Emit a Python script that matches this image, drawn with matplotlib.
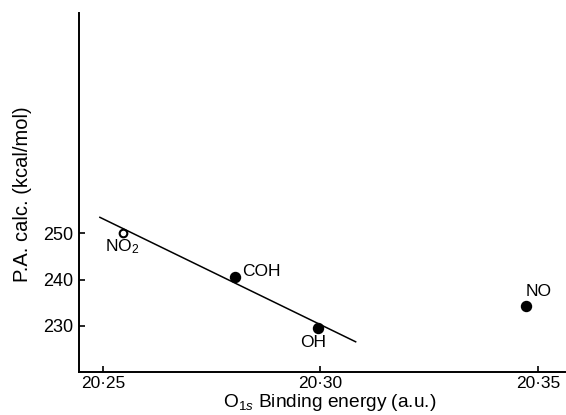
import matplotlib
matplotlib.use("Agg")
import matplotlib.pyplot as plt

plt.rcParams['font.family'] = ['Liberation Sans', 'DejaVu Sans']
plt.rcParams['mathtext.fontset'] = 'custom'
plt.rcParams['mathtext.rm'] = 'Liberation Sans'
plt.rcParams['mathtext.it'] = 'Liberation Sans:italic'

# Data
labels = ["NO$_2$", "COH", "OH", "NO"]
binding_energy = [20.2547, 20.2803, 20.2994, 20.3472]
pa_calc = [250.0, 240.6, 229.5, 234.4]
filled = [False, True, True, True]

fit_x = [20.2493, 20.3081]
fit_y = [253.4, 226.6]

xticks = [20.25, 20.30, 20.35]
xtick_labels = ["20·25", "20·30", "20·35"]
yticks = [230, 240, 250]
ytick_labels = ["230", "240", "250"]

fig = plt.figure(figsize=(5.66, 4.15), dpi=100)
ax = fig.add_axes([0.1396, 0.1048, 0.8584, 0.8639])

ax.plot(fit_x, fit_y, color='black', lw=1.1)

for x, y, f in zip(binding_energy, pa_calc, filled):
    if f:
        ax.plot([x], [y], 'o', color='black', ms=7.2, zorder=3)
    else:
        ax.plot([x], [y], 'o', mfc='white', mec='black', mew=1.5, ms=5.5, zorder=3)

# annotations: (dx, dy) offsets in pixels, ha, va
ann = [
    (-1, -14, 'center', 'center'),
    (7, 5, 'left', 'center'),
    (-5, -14, 'center', 'center'),
    (0, 14, 'left', 'center'),
]
for lab, x, y, (dx, dy, ha, va) in zip(labels, binding_energy, pa_calc, ann):
    ax.annotate(lab, (x, y), xytext=(dx, dy), textcoords='offset pixels',
                ha=ha, va=va, fontsize=12.5)

ax.set_xlim(20.2445, 20.3562)
ax.set_ylim(220.2, 297.4)

ax.set_xticks(xticks)
ax.set_xticklabels(xtick_labels)
ax.set_yticks(yticks)
ax.set_yticklabels(ytick_labels)
ax.tick_params(axis='both', direction='in', length=4, width=1.2, labelsize=13)
ax.tick_params(axis='x', pad=3.5, labelsize=12.5)
ax.tick_params(axis='y', pad=4.5)

for s in ['top', 'right']:
    ax.spines[s].set_visible(False)
for s in ['left', 'bottom']:
    ax.spines[s].set_linewidth(1.4)

ax.set_xlabel("O$_{1s}$ Binding energy (a.u.)", fontsize=13.8)
ax.xaxis.set_label_coords(0.516, -0.087)
ax.xaxis.label.set_va('center')
ax.set_ylabel("P.A. calc. (kcal/mol)", fontsize=14.5)
ax.yaxis.set_label_coords(-0.117, 0.495)
ax.yaxis.label.set_va('center')

fig.savefig("out.png", dpi=100)
